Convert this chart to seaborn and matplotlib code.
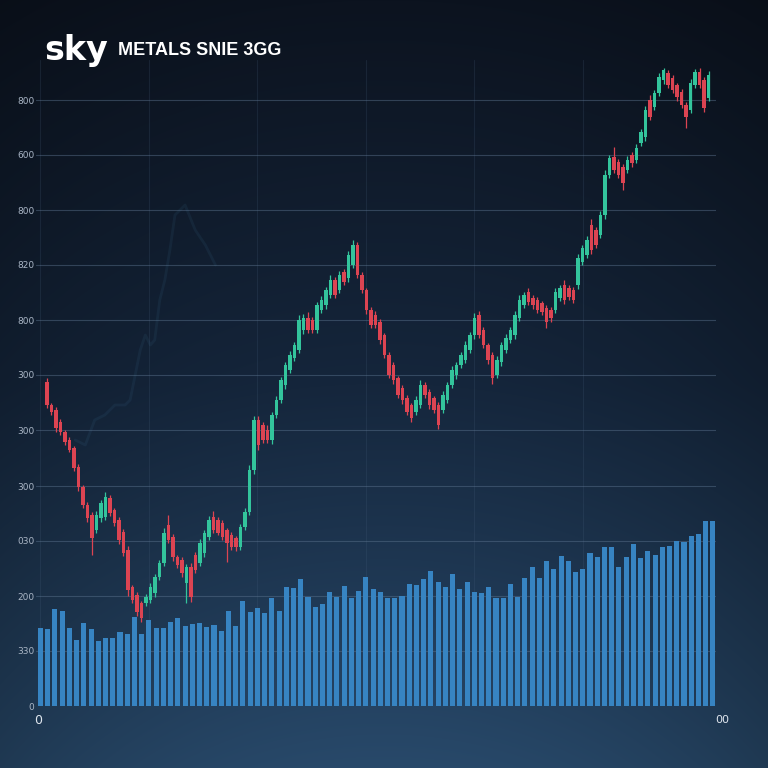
import numpy as np
import matplotlib
matplotlib.use("Agg")
import matplotlib.pyplot as plt
import seaborn as sns
import pandas as pd

# ---------------- data ----------------
volume = [78, 77, 97, 95, 78, 66, 83, 77, 65, 68, 68, 74, 72, 89, 72, 86, 78, 78, 84,
          88, 80, 82, 83, 79, 81, 75, 95, 80, 105, 94, 98, 93, 108, 95, 119, 118, 127,
          109, 99, 102, 114, 109, 120, 108, 115, 129, 117, 114, 108, 108, 110, 122, 121, 127, 135, 124,
          119, 132, 117, 124, 114, 113, 119, 108, 108, 122, 109, 128, 139, 128, 145, 137, 150, 145,
          134, 137, 153, 149, 159, 159, 139, 149, 162, 148, 155, 151, 159, 160, 165, 164, 170, 172, 185, 185]

opens = [324, 301, 296, 284, 274, 266, 258, 239, 219, 201,
         191, 176, 188, 189, 208, 196, 186, 174, 156, 119,
         111, 103, 103, 106, 113, 129, 143, 181, 169, 149,
         146, 123, 139, 151, 143, 153, 169, 189, 186, 183,
         176, 171, 168, 159, 179, 194, 236, 286, 281, 276,
         266, 291, 306, 321, 336, 348, 356, 376, 388, 386,
         376, 396, 401, 411, 426, 416, 434, 428, 441, 461,
         431, 416, 396, 391, 384, 371, 351, 341, 328, 318,
         308, 301, 294, 301, 321, 314, 308, 301, 296, 306,
         321, 331, 341, 346, 356, 371, 391, 376, 361, 351,
         331, 344, 356, 366, 371, 388, 401, 414, 408, 406,
         403, 398, 396, 396, 408, 421, 418, 416, 421, 444,
         451, 481, 476, 471, 491, 531, 549, 544, 539, 536,
         551, 546, 563, 569, 606, 599, 613, 626, 633, 628,
         621, 614, 601, 596, 621, 634, 626, 608]

closes = [301, 294, 278, 274, 264, 256, 238, 219, 201, 188,
          168, 191, 203, 209, 193, 183, 166, 153, 116, 106,
          94, 88, 109, 119, 129, 143, 173, 166, 149, 141,
          133, 139, 109, 136, 163, 173, 186, 176, 173, 169,
          163, 159, 159, 179, 194, 236, 286, 261, 266, 266,
          291, 306, 326, 341, 351, 361, 386, 388, 376, 376,
          401, 406, 416, 426, 411, 431, 424, 451, 461, 431,
          416, 396, 381, 381, 366, 351, 331, 326, 311, 306,
          294, 288, 306, 321, 311, 301, 296, 281, 311, 321,
          336, 341, 351, 361, 371, 388, 371, 361, 346, 328,
          346, 361, 368, 376, 391, 406, 411, 404, 401, 396,
          394, 384, 388, 414, 418, 406, 409, 406, 448, 458,
          466, 456, 461, 491, 531, 548, 536, 531, 523, 546,
          543, 558, 574, 596, 589, 613, 629, 636, 621, 616,
          609, 601, 589, 623, 634, 621, 598, 631]

wick_up = [4, 2, 3, 3, 2, 3, 2, 3, 2, 3,
           3, 4, 3, 5, 3, 2, 3, 3, 4, 2,
           3, 2, 3, 4, 3, 3, 5, 10, 3, 2,
           3, 3, 4, 3, 4, 3, 4, 6, 3, 3,
           2, 3, 2, 3, 4, 5, 4, 4, 3, 5,
           3, 4, 3, 3, 4, 3, 5, 4, 6, 3,
           3, 4, 3, 5, 3, 4, 3, 4, 5, 3,
           3, 2, 3, 4, 3, 2, 3, 3, 2, 3,
           3, 2, 4, 5, 3, 3, 2, 3, 4, 3,
           4, 3, 3, 4, 3, 5, 4, 3, 2, 3,
           4, 3, 4, 3, 4, 5, 3, 4, 3, 3,
           2, 3, 3, 4, 3, 5, 3, 3, 4, 3,
           4, 6, 3, 4, 5, 3, 10, 3, 3, 4,
           3, 4, 3, 4, 5, 3, 4, 2, 3, 3,
           2, 3, 3, 4, 3, 4, 3, 4]

wick_dn = [3, 3, 4, 3, 3, 2, 3, 4, 3, 4,
           17, 3, 4, 3, 3, 3, 4, 3, 6, 3,
           4, 4, 3, 3, 4, 3, 3, 3, 4, 3,
           4, 20, 5, 3, 3, 4, 3, 3, 2, 3,
           19, 3, 4, 3, 3, 3, 4, 5, 3, 3,
           4, 3, 3, 4, 3, 3, 3, 4, 3, 3,
           3, 3, 4, 3, 3, 3, 3, 4, 3, 3,
           3, 4, 3, 3, 4, 3, 3, 4, 3, 4,
           3, 4, 3, 3, 3, 4, 3, 4, 3, 3,
           3, 4, 3, 3, 3, 4, 3, 3, 4, 6,
           3, 4, 3, 3, 4, 3, 3, 3, 4, 3,
           3, 6, 4, 3, 3, 4, 3, 3, 4, 3,
           3, 4, 3, 3, 4, 3, 3, 3, 7, 3,
           4, 3, 3, 4, 3, 3, 3, 4, 3, 3,
           4, 3, 11, 3, 3, 3, 4, 3]

ghost_x = [4.8, 6.2, 7.5, 8.9, 10.3, 11.7, 12.4, 13.8, 14.5, 15.2,
           15.8, 16.5, 17.2, 17.9, 18.6, 19.3, 20.0, 21.4, 22.8, 24.2]
ghost_y = [266, 261, 286, 291, 301, 301, 306, 356, 371, 361,
           366, 406, 426, 456, 491, 496, 501, 476, 461, 441]

y_ticks = [0, 55, 110, 165, 220, 276, 331, 386, 441, 496, 551, 606]
y_labels = ["0", "330", "200", "030", "300", "300", "300", "800", "820", "800", "600", "800"]
x_grid = [0, 15, 30, 45, 60, 75]
x_end_labels = ["0", "00"]
logo = "sky"
title = "METALS SNIE 3GG"

assert len(opens) == len(closes) == len(wick_up) == len(wick_dn)

# ---------------- figure ----------------
sns.set_theme(style="dark")
plt.rcParams['font.family'] = ['DejaVu Sans']

W = H = 768
fig = plt.figure(figsize=(7.68, 7.68), dpi=100)

# background gradient
bg = fig.add_axes([0, 0, 1, 1], zorder=0)
t = np.linspace(0, 1, H)[:, None, None]
xx = np.linspace(-1, 1, W)[None, :, None]
top = np.array([12, 19, 31]) / 255
mid = np.array([21, 38, 60]) / 255
bot = np.array([40, 73, 106]) / 255
col = np.where(t < 0.5, top + (mid - top) * (t / 0.5), mid + (bot - mid) * ((t - 0.5) / 0.5))
vign = 1 - 0.22 * xx ** 2
img = np.clip(col * vign, 0, 1)
bg.imshow(img, extent=[0, 1, 0, 1], aspect='auto', origin='upper')
bg.axis('off')

ax = fig.add_axes([36 / W, (H - 706) / H, 680 / W, 646 / H], zorder=1)
ax.set_facecolor((0, 0, 0, 0))

df_vol = pd.DataFrame({"idx": np.arange(len(volume)), "volume": volume})
sns.barplot(data=df_vol, x="idx", y="volume", ax=ax, color="#3784c2",
            saturation=1, width=0.7, zorder=2, linewidth=0, edgecolor="none")

# candles
o = np.array(opens, float)
c = np.array(closes, float)
n = len(o)
cx = 0.9 + np.arange(n) * 0.6224
up = c >= o
colors = np.where(up, "#33c49c", "#dc4452")
hi = np.maximum(o, c) + np.array(wick_up)
lo = np.minimum(o, c) - np.array(wick_dn)
ax.vlines(cx, lo, hi, colors=colors, lw=0.9, zorder=4)
ax.bar(cx, np.maximum(np.abs(c - o), 1.5), bottom=np.minimum(o, c), width=0.48,
       color=colors, zorder=5, linewidth=0)

# faint ghost line
sns.lineplot(x=ghost_x, y=ghost_y, ax=ax, color="#4d8fb8", alpha=0.09, lw=2.0, zorder=1)

ax.set_xlim(-0.62, 93.43)
ax.set_ylim(0, 646)
ax.set_yticks(y_ticks)
ax.set_yticklabels(y_labels)
ax.set_xticks(x_grid)
ax.set_xticklabels([])
ax.set_xlabel("")
ax.set_ylabel("")
ax.tick_params(axis='y', labelsize=6.5, colors="#aab6c6", length=0, pad=1)
ax.tick_params(axis='x', length=0)
ax.grid(True, axis='y', color="#5d7590", alpha=0.45, lw=0.8, zorder=0)
ax.grid(True, axis='x', color="#4a6380", alpha=0.2, lw=0.8, zorder=0)
ax.set_axisbelow(True)
for s in ax.spines.values():
    s.set_visible(False)

fig.text(38 / W, 1 - 720 / H, x_end_labels[0], ha='center', va='center', fontsize=9, color="#dfe6ee")
fig.text(722 / W, 1 - 720 / H, x_end_labels[1], ha='center', va='center', fontsize=8, color="#dfe6ee")

fig.text(44 / W, 1 - 60 / H, logo, fontsize=24, fontweight='bold', color='white',
         va='baseline', ha='left', family='DejaVu Sans')
fig.text(118 / W, 1 - 55 / H, title, fontsize=13, fontweight='bold', color='white',
         va='baseline', ha='left', family='Liberation Sans')

fig.savefig("out.png", dpi=100)
